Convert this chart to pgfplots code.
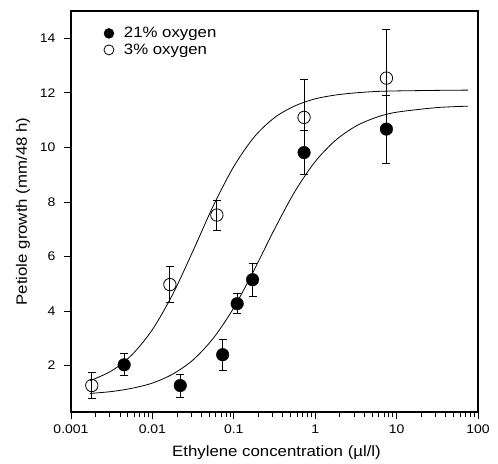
\documentclass[border=0pt]{standalone}
\usepackage{fontspec}
\setmainfont[FakeStretch=1.12]{Liberation Sans}
\usepackage{pgfplots}
\pgfplotsset{compat=1.18}
\usepackage{pgfplotstable}

% x (ul/l), y (mm/48 h), error
\pgfplotstableread{
x      y     e
0.0045 2.03  0.40
0.022  1.27  0.42
0.073  2.40  0.56
0.11   4.27  0.36
0.17   5.15  0.60
0.73   9.81  0.80
7.5    10.67 1.25
}\highox
\pgfplotstableread{
x      y     e
0.0018 1.27  0.47
0.0164 4.97  0.67
0.062  7.52  0.55
0.73   11.10 1.40
7.5    12.54 1.80
}\lowox

\begin{document}
\begin{tikzpicture}
\begin{axis}[
    scale only axis,
    width=407pt, height=401pt,
    xmode=log,
    xmin=0.001, xmax=100,
    ymin=0.3, ymax=15,
    ytick={2,4,...,14},
    xtick={0.001,0.01,0.1,1,10,100},
    xticklabels={0.001,0.01,0.1,1,10,100},
    log ticks with fixed point,
    tick align=outside,
    xtick pos=bottom, ytick pos=left,
    major tick length=7pt, minor tick length=5pt,
    tick style={black, line width=0.8pt},
    axis line style={line width=1.2pt},
    every tick label/.append style={font=\fontsize{12.5}{14}\selectfont},
    yticklabel style={xshift=-5pt},
    xticklabel style={yshift=-2pt},
    /pgf/number format/assume math mode=true,
    xlabel={Ethylene concentration (µl/l)},
    ylabel={Petiole growth (mm/48 h)},
    label style={font=\fontsize{15}{17}\selectfont},
    xlabel style={at={(rel axis cs:0.5,0)}, anchor=base, xshift=2pt, yshift=-45pt},
    ylabel style={at={(rel axis cs:0,0.5)}, anchor=base, rotate=0, yshift=44pt},
    legend style={draw=none, fill=none, at={(0.078,0.967)}, anchor=north west,
        font=\fontsize{15}{17}\selectfont, row sep=0.5pt, column sep=8pt,
        inner sep=1pt},
    legend image post style={mark size=5pt},
    legend cell align=left,
]
% fitted curves
\addplot[black, line width=0.8pt, smooth, forget plot] coordinates {
    (0.0017,1.44) (0.00316,1.81) (0.00562,2.40) (0.01,3.32) (0.0178,4.62)
    (0.0316,6.21) (0.0562,7.87) (0.1,9.30) (0.178,10.38) (0.316,11.09)
    (0.562,11.52) (1,11.78) (1.778,11.92) (3.162,12.00) (5.623,12.05)
    (10,12.07) (31.62,12.09) (75,12.10)
};
\addplot[black, line width=0.8pt, smooth, forget plot] coordinates {
    (0.0017,0.98) (0.00316,1.05) (0.00562,1.17) (0.01,1.36) (0.0178,1.69)
    (0.0316,2.21) (0.0562,3.01) (0.1,4.12) (0.178,5.51) (0.316,7.00)
    (0.562,8.38) (1,9.48) (1.778,10.26) (3.162,10.78) (5.623,11.10)
    (10,11.29) (31.62,11.46) (75,11.51)
};
% error bars
\addplot[draw=none, mark=none, forget plot,
    error bars/.cd, y dir=both, y explicit,
    error bar style={black, line width=0.8pt},
    error mark options={rotate=90, mark size=4pt, line width=0.8pt}]
    table[x=x, y=y, y error=e] {\highox};
\addplot[draw=none, mark=none, forget plot,
    error bars/.cd, y dir=both, y explicit,
    error bar style={black, line width=0.8pt},
    error mark options={rotate=90, mark size=4pt, line width=0.8pt}]
    table[x=x, y=y, y error=e] {\lowox};
% points
\addplot[only marks, mark=*, mark size=6.3pt, mark options={fill=black, draw=black}]
    table[x=x, y=y] {\highox};
\addlegendentry{21\% oxygen}
\addplot[only marks, mark=o, mark size=6.2pt, mark options={fill=white, draw=black, line width=0.8pt}]
    table[x=x, y=y] {\lowox};
\addlegendentry{3\% oxygen}
\end{axis}
\path ([shift={(-71pt,-49pt)}]current axis.south west) rectangle ([shift={(20pt,11pt)}]current axis.north east);
\end{tikzpicture}
\end{document}
